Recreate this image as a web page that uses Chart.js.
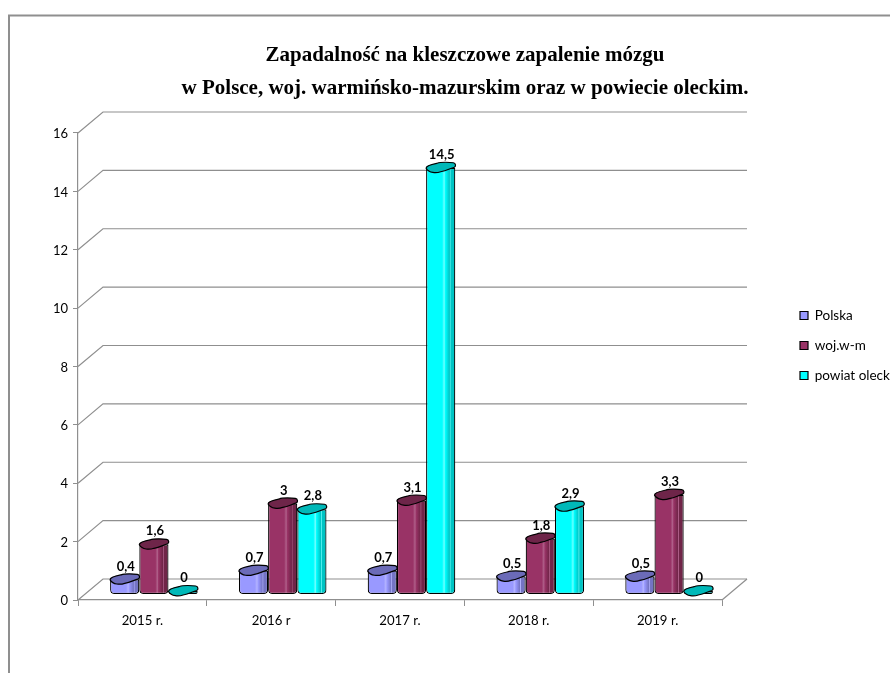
<!DOCTYPE html>
<html>
<head>
<meta charset="utf-8">
<style>
  html, body { margin: 0; padding: 0; background: #fff; }
  #wrap { width: 890px; height: 673px; }
</style>
<script src="https://cdn.jsdelivr.net/npm/chart.js@4"></script>
</head>
<body>
<div id="wrap"><canvas id="myChart" width="890" height="673"></canvas></div>
<script>
var lata = ["2015 r.", "2016 r", "2017 r.", "2018 r.", "2019 r."];
var polska = [0.4, 0.7, 0.7, 0.5, 0.5];
var wojWm = [1.6, 3, 3.1, 1.8, 3.3];
var powiatOlecki = [0, 2.8, 14.5, 2.9, 0];
var tytul = [
  "Zapadalność na kleszczowe zapalenie mózgu",
  "w Polsce, woj. warmińsko-mazurskim oraz w powiecie oleckim."
];

// kolory walca: lewa strona, pasek, prawa strona, gora
var palety = [
  { main: "#9999ff", light: "#b4b4ff", dark: "#7474c4", top: "#6b6bb8" },
  { main: "#993366", light: "#b0608a", dark: "#702548", top: "#6e2549" },
  { main: "#00ffff", light: "#70ffff", dark: "#00c4c4", top: "#00b8b8" }
];

// przesuniecie tylnej sciany i slupkow wzgledem osi
var WALL_X = 25, WALL_Y = 21;
var BAR_X = 11.5, BAR_Y = 9;
var GREY = "#8f8f8f";

// nierowna gora walca, jak w oryginale
function blob(c, x, y, w) {
  var L = x - w / 2, R = x + w / 2;
  c.beginPath();
  c.moveTo(L, y + 0.5);
  c.bezierCurveTo(L, y - 2.5, x - w * 0.3, y - 3.5, x - w * 0.12, y - 4.5);
  c.bezierCurveTo(x, y - 6, R - 5, y - 5.5, R - 2, y - 5);
  c.bezierCurveTo(R + 0.5, y - 4.5, R + 1, y - 1.5, R - 1, y - 0.5);
  c.bezierCurveTo(x + w * 0.3, y + 1, x + w * 0.2, y + 3, x, y + 4);
  c.bezierCurveTo(x - w * 0.15, y + 5.5, L + 3, y + 5.5, L, y + 0.5);
  c.closePath();
}

var depth3d = {
  id: "depth3d",
  beforeInit: function (chart) {
    var fit = chart.legend.fit;
    chart.legend.fit = function () {
      fit.call(this);
      this.width = 168;
    };
  },
  afterLayout: function (chart) {
    // legenda stoi dalej w prawo i wyzej niz domyslnie
    chart.legend.left = 783.5;
    chart.legend.top = 133 - 21;
    chart.legend.bottom = 600 - 21;
  },
  beforeDatasetsDraw: function (chart) {
    var c = chart.ctx, a = chart.chartArea, y = chart.scales.y;
    c.save();
    c.strokeStyle = GREY;
    c.lineWidth = 1.2;
    y.ticks.forEach(function (t) {
      var py = y.getPixelForValue(t.value);
      c.beginPath();
      c.moveTo(a.left, py);
      c.lineTo(a.left + WALL_X, py - WALL_Y);
      c.lineTo(a.right + WALL_X, py - WALL_Y);
      c.stroke();
    });
    // prawa krawedz podlogi
    var p0 = y.getPixelForValue(0);
    c.beginPath();
    c.moveTo(a.right, p0);
    c.lineTo(a.right + WALL_X, p0 - WALL_Y);
    c.stroke();
    c.restore();
  },
  // slupki rysujemy same, zeby kolejnosc byla 0,1,2 (pozniejszy na wierzchu)
  beforeDatasetDraw: function () {
    return false;
  },
  afterDatasetsDraw: function (chart) {
    var c = chart.ctx;
    chart.data.datasets.forEach(function (ds, i) {
      var meta = chart.getDatasetMeta(i);
      var pal = palety[i];
      meta.data.forEach(function (el) {
        var left = el.x - el.width / 2;
        var g = c.createLinearGradient(left, 0, left + el.width, 0);
        g.addColorStop(0, pal.main);
        g.addColorStop(0.55, pal.main);
        g.addColorStop(0.62, pal.light);
        g.addColorStop(0.66, pal.main);
        g.addColorStop(0.8, pal.dark);
        g.addColorStop(0.82, pal.light);
        g.addColorStop(0.85, pal.dark);
        g.addColorStop(1, pal.dark);
        el.options = Object.assign({}, el.options, { backgroundColor: g });
      });
      c.save();
      c.translate(BAR_X, -BAR_Y);
      meta.controller.draw();
      // gora walca
      meta.data.forEach(function (el) {
        blob(c, el.x, el.y, el.width);
        c.fillStyle = pal.top;
        c.fill();
        c.lineWidth = 1.2;
        c.strokeStyle = "#000";
        c.stroke();
      });
      c.restore();
    });
    // etykiety wartosci
    c.save();
    c.font = "bold 13px Lato";
    c.fillStyle = "#000";
    c.textAlign = "center";
    c.textBaseline = "middle";
    chart.data.datasets.forEach(function (ds, i) {
      chart.getDatasetMeta(i).data.forEach(function (el, k) {
        var label = String(ds.data[k]).replace(".", ",");
        c.fillText(label, el.x + BAR_X + 1, el.y - 22);
      });
    });
    c.restore();
  },
  afterDraw: function (chart) {
    // ramka wykresu
    var c = chart.ctx;
    c.save();
    c.strokeStyle = GREY;
    c.lineWidth = 2;
    c.beginPath();
    c.moveTo(9, 673);
    c.lineTo(9, 15.5);
    c.lineTo(890, 15.5);
    c.stroke();
    c.restore();
  }
};

function barDataset(label, data, color) {
  return {
    label: label,
    data: data,
    backgroundColor: color,
    borderColor: "#000",
    borderWidth: 1.2,
    borderSkipped: false,
    borderRadius: { topLeft: 0, topRight: 0, bottomLeft: 4, bottomRight: 4 },
    base: -0.1,
    categoryPercentage: 0.68,
    barPercentage: 1
  };
}

new Chart(document.getElementById("myChart").getContext("2d"), {
  type: "bar",
  data: {
    labels: lata,
    datasets: [
      barDataset("Polska", polska, palety[0].main),
      barDataset("woj.w-m", wojWm, palety[1].main),
      barDataset("powiat oleck", powiatOlecki, palety[2].main)
    ]
  },
  options: {
    responsive: false,
    animation: false,
    layout: { padding: { left: 40, right: 0, top: 0, bottom: 0 } },
    plugins: {
      tooltip: { enabled: false },
      title: {
        display: true,
        text: tytul,
        color: "#000",
        font: { family: "Liberation Serif", size: 21, weight: "bold", lineHeight: 1.571 },
        padding: { top: 39, bottom: 28 }
      },
      legend: {
        position: "right",
        labels: {
          color: "#000",
          font: { family: "Lato", size: 13.5 },
          boxWidth: 8,
          boxHeight: 8,
          padding: 16.5
        }
      }
    },
    scales: {
      x: {
        afterFit: function (scale) { scale.height = 73; },
        border: { color: GREY, width: 1.2 },
        grid: { drawOnChartArea: false, color: GREY, tickLength: 6 },
        ticks: { color: "#000", font: { family: "Lato", size: 13.2 }, padding: 7 }
      },
      y: {
        min: 0,
        max: 16,
        afterFit: function (scale) { scale.width = 38; },
        border: { color: GREY, width: 1.2 },
        grid: { drawOnChartArea: false, color: GREY, tickLength: 5 },
        ticks: { stepSize: 2, color: "#000", font: { family: "Lato", size: 13 }, padding: 5, labelOffset: 1 }
      }
    }
  },
  plugins: [depth3d]
});
</script>
</body>
</html>
